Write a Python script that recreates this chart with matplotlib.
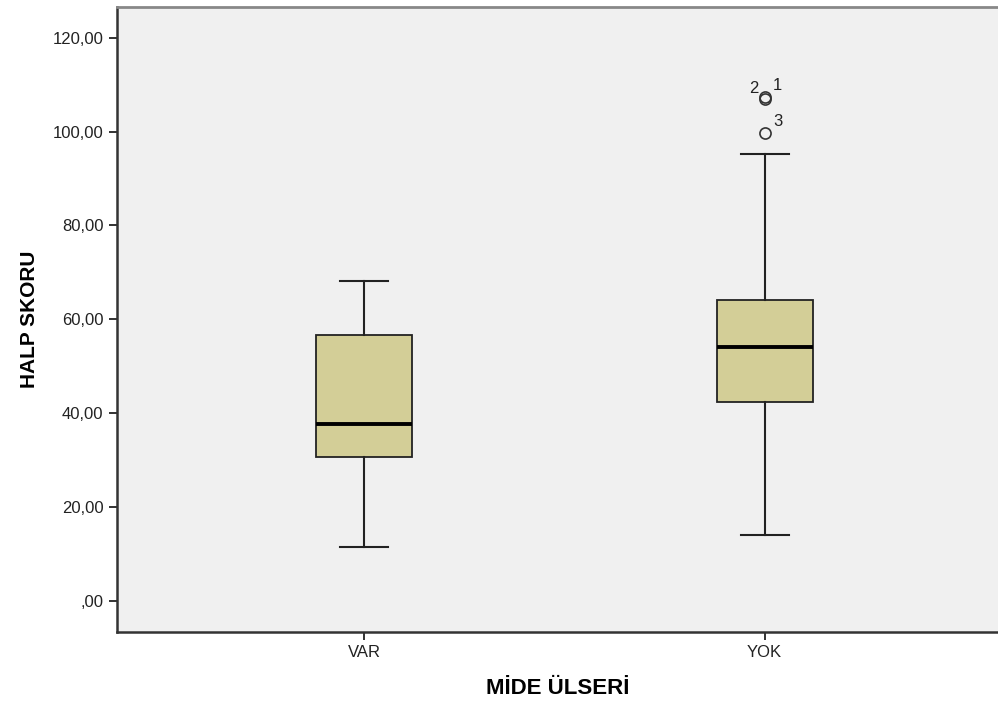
import matplotlib
matplotlib.use("Agg")
import matplotlib.pyplot as plt

plt.rcParams['font.family'] = ['Liberation Sans', 'DejaVu Sans']

# ----------------------------------------------------------------------------------------------------------------------
# Veriler --------------------------------------------------------------------------------------------------------------
categories = ["VAR", "YOK"]
whisker_low = [11.5, 14.1]
q1 = [30.7, 42.4]
median = [37.7, 54.1]
q3 = [56.7, 64.2]
whisker_high = [68.2, 95.3]

outlier_values = [107.3, 107.0, 99.7]
outlier_labels = ["1", "2", "3"]
outlier_group = [1, 1, 1]

y_ticks = [0, 20, 40, 60, 80, 100, 120]
y_tick_labels = [",00", "20,00", "40,00", "60,00", "80,00", "100,00", "120,00"]

# ----------------------------------------------------------------------------------------------------------------------
fig = plt.figure(figsize=(9.98, 7.01), dpi=100)
ax = fig.add_axes([0.117, 0.0984, 0.883, 0.892])
ax.set_facecolor("#f0f0f0")

stats = []
for i in range(len(categories)):
    stats.append({"label": categories[i], "whislo": whisker_low[i], "q1": q1[i], "med": median[i],
                  "q3": q3[i], "whishi": whisker_high[i], "fliers": []})

ax.bxp(stats, positions=[1, 2], widths=0.24, patch_artist=True, showfliers=False,
       boxprops=dict(facecolor="#d3ce97", edgecolor="#222222", linewidth=1.3),
       medianprops=dict(color="black", linewidth=2.8),
       whiskerprops=dict(color="#222222", linewidth=1.5),
       capprops=dict(color="#222222", linewidth=1.5),
       capwidths=0.12)

for i in range(len(outlier_values)):
    xpos = outlier_group[i] + 1
    ax.plot(xpos, outlier_values[i], marker="o", markersize=8, markerfacecolor="none",
            markeredgecolor="#333333", markeredgewidth=1.2, linestyle="none")
    if outlier_labels[i] == "2":
        ax.annotate(outlier_labels[i], (xpos, outlier_values[i]), xytext=(-11, 4),
                    textcoords="offset points", fontsize=12, color="#222222")
    else:
        ax.annotate(outlier_labels[i], (xpos, outlier_values[i]), xytext=(6, 5),
                    textcoords="offset points", fontsize=12, color="#222222")

ax.set_xlim(0.3825, 2.5825)
ax.set_ylim(-6.6, 126.6)
ax.set_yticks(y_ticks)
ax.set_yticklabels(y_tick_labels, fontsize=12, color="#222222")
ax.set_xticks([1, 2])
ax.set_xticklabels(categories, fontsize=12, color="#222222")
ax.tick_params(axis="both", length=6, width=1.3, color="#222222")

ax.spines["right"].set_visible(False)
ax.spines["top"].set_color("#888888")
ax.spines["top"].set_linewidth(2)
ax.spines["left"].set_color("#333333")
ax.spines["left"].set_linewidth(1.8)
ax.spines["bottom"].set_color("#333333")
ax.spines["bottom"].set_linewidth(1.8)

ax.set_ylabel("HALP SKORU", fontsize=15, fontweight="bold", labelpad=10)
ax.set_xlabel("MİDE ÜLSERİ", fontsize=16, fontweight="bold", labelpad=13)

fig.savefig("out.png", dpi=100)
